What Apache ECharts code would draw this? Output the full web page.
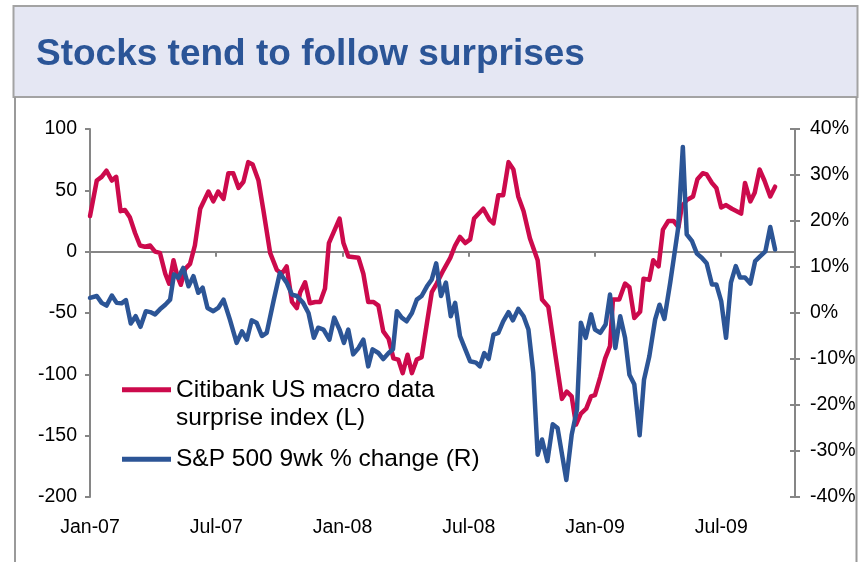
<!DOCTYPE html>
<html>
<head>
<meta charset="utf-8">
<script src="https://cdn.jsdelivr.net/npm/echarts@6/dist/echarts.min.js"></script>
<style>
  html, body { margin: 0; padding: 0; background: #ffffff; }
  #chart { width: 859px; height: 562px; }
</style>
</head>
<body>
<div id="chart"></div>
<script>
// Weekly observations, x measured in weeks from the first week of January 2007.
const tickLabels = ['Jan-07', 'Jul-07', 'Jan-08', 'Jul-08', 'Jan-09', 'Jul-09'];
const weeksPerLabel = 26;
const axisEndWeek = 145.2;

// Citibank US macro data surprise index (left axis)
const surpriseWeeks = [
  0.0, 1.4, 2.4, 3.4, 4.5, 5.4, 6.3, 7.2, 8.2, 9.3, 10.3, 11.3, 12.4, 13.4, 14.4, 15.5, 16.3, 17.2, 18.0, 18.7,
  19.6, 20.6, 21.6, 22.7, 24.4, 25.4, 26.4, 27.5, 28.5, 29.5, 30.6, 31.6, 32.6, 33.5, 34.7, 35.7, 37.1, 38.5, 39.5, 40.5,
  41.6, 42.6, 43.3, 44.3, 45.3, 46.4, 47.4, 48.4, 49.2, 51.4, 52.2, 53.2, 55.3, 56.3, 57.3, 58.4, 59.4, 60.4, 61.5, 62.5,
  63.5, 64.4, 65.4, 66.3, 67.3, 68.3, 69.4, 70.4, 71.4, 72.8, 74.2, 75.2, 76.2, 77.3, 78.3, 79.1, 81.0, 82.3, 83.1, 84.1,
  85.1, 86.2, 87.2, 88.2, 89.3, 90.6, 92.2, 93.1, 94.4, 95.8, 97.2, 98.2, 99.2, 100.1, 101.1, 102.2, 103.2, 104.0, 105.1, 106.1,
  107.1, 107.7, 109.0, 110.2, 111.1, 112.1, 113.3, 114.0, 115.2, 116.0, 117.1, 118.0, 119.1, 120.2, 121.2, 121.9, 122.9, 124.2, 125.1, 126.2,
  127.0, 128.1, 129.0, 130.0, 131.0, 132.2, 133.2, 134.1, 134.9, 136.0, 136.9, 137.9, 138.9, 140.1, 141.1
];
const surpriseIndex = [
  29, 58, 61, 66, 58, 61, 33, 34, 28, 15, 5, 4, 5, 0, -1, -18, -26, -7, -20, -27,
  -14, -10, 5, 35, 49, 41, 49, 43, 64, 64, 52, 57, 73, 71, 58, 34, -1, -15, -18, -12,
  -41, -46, -33, -25, -42, -41, -41, -30, 7, 27, 7, -4, -5, -18, -41, -41, -44, -65, -71, -87,
  -88, -99, -84, -99, -88, -86, -58, -33, -26, -15, -5, 5, 12, 7, 10, 27, 35, 26, 23, 46,
  46, 73, 67, 45, 33, 11, -7, -39, -45, -83, -120, -114, -118, -141, -132, -128, -118, -117, -102, -87,
  -77, -39, -39, -26, -29, -54, -49, -22, -23, -7, -12, 18, 25, 25, 20, 37, 42, 45, 59, 64,
  63, 56, 52, 36, 38, 35, 33, 31, 56, 41, 48, 67, 58, 45, 53
];

// S&P 500 9-week % change (right axis)
const spxWeeks = [
  0.0, 1.4, 2.4, 3.4, 4.5, 5.5, 6.5, 7.4, 8.4, 9.4, 10.4, 11.5, 12.4, 13.4, 14.4, 15.5, 16.5, 17.3, 18.2, 19.2,
  20.3, 21.3, 22.3, 23.2, 24.2, 25.4, 26.4, 27.5, 28.8, 30.2, 31.3, 32.3, 33.3, 34.3, 35.4, 36.4, 37.8, 39.1, 40.5, 41.6,
  42.6, 43.9, 45.0, 46.1, 47.0, 48.1, 49.3, 50.3, 51.4, 52.3, 53.2, 54.2, 55.3, 56.3, 57.3, 58.2, 59.4, 60.4, 61.5, 62.4,
  63.2, 64.2, 65.2, 66.3, 67.3, 68.3, 69.4, 70.4, 71.3, 72.3, 73.3, 74.3, 75.2, 76.2, 77.3, 78.3, 79.5, 80.3, 81.2, 82.1,
  83.1, 84.1, 85.1, 86.2, 87.1, 88.2, 89.3, 90.3, 91.3, 92.2, 93.1, 94.2, 95.3, 96.3, 98.1, 99.2, 100.3, 101.1, 102.1, 103.2,
  104.0, 105.1, 106.2, 107.1, 108.2, 109.2, 110.2, 111.1, 112.1, 113.2, 114.1, 115.2, 116.4, 117.3, 118.3, 119.5, 120.4, 121.1, 122.1, 122.9,
  124.0, 125.0, 126.0, 127.0, 128.1, 129.0, 130.0, 131.0, 132.0, 133.0, 133.9, 134.9, 136.0, 137.0, 138.0, 139.1, 140.1, 141.1
];
const spxChange = [
  3.3, 3.7, 2.2, 1.6, 3.8, 2.2, 2.1, 2.8, -2.3, -0.7, -3.0, 0.4, 0.2, -0.3, 0.8, 1.8, 2.9, 8.4, 7.7, 9.8,
  5.8, 8.0, 4.4, 5.5, 1.1, 0.4, 1.1, 2.9, -1.4, -6.5, -4.0, -5.8, -1.6, -2.1, -5.0, -4.3, 2.6, 8.7, 6.6, 4.0,
  3.7, 2.2, 0.0, -5.4, -3.2, -3.6, -5.8, -1.0, -3.6, -6.5, -3.6, -9.0, -7.6, -5.8, -11.6, -7.9, -8.7, -10.0, -8.7, -7.9,
  0.4, -1.0, -1.8, 0.0, 2.9, 3.7, 5.8, 7.3, 10.8, 3.7, 6.6, -0.7, 2.2, -5.0, -7.9, -10.5, -10.8, -11.6, -8.7, -10.0,
  -4.7, -4.3, -1.8, 0.2, -1.6, 0.9, -0.7, -3.6, -13.0, -30.8, -27.5, -32.2, -24.2, -25.0, -36.3, -26.5, -21.0, -2.1, -5.4, -0.3,
  -3.6, -4.3, -2.5, 4.0, -7.6, -0.7, -5.4, -13.4, -15.5, -26.6, -14.5, -9.4, -1.4, 1.8, -1.3, 6.6, 13.1, 18.2, 36.1, 17.1,
  15.6, 12.9, 12.0, 10.8, 6.2, 6.2, 2.6, -5.4, 6.6, 10.2, 7.7, 7.7, 6.4, 11.3, 12.3, 13.4, 18.7, 13.8
];

const surpriseName = 'Citibank US macro data surprise index (L)';
const spxName = 'S&P 500 9wk % change (R)';

const RED = '#CC0A4C';
const BLUE = '#2C5596';
const AXIS = '#868686';
const FONT = "'Liberation Sans', Arial, sans-serif";

const toPairs = (xs, ys) => xs.map((x, i) => [x, ys[i]]);

const weekLabel = (v) => {
  const i = Math.round(v / weeksPerLabel);
  return Math.abs(v - i * weeksPerLabel) < 1e-6 && tickLabels[i] ? tickLabels[i] : '';
};

const chart = echarts.init(document.getElementById('chart'), null, { renderer: 'canvas' });

const xCommon = { type: 'value', min: 0, max: axisEndWeek, interval: weeksPerLabel, splitLine: { show: false } };
const rightCommon = { type: 'value', position: 'right', min: -40, max: 40, interval: 10, splitLine: { show: false } };

chart.setOption({
  animation: false,
  backgroundColor: '#ffffff',
  textStyle: { fontFamily: FONT },
  graphic: [
    {
      type: 'rect', z: 0,
      shape: { x: 13.5, y: 6, width: 844, height: 91 },
      style: { fill: '#E5E7F3', stroke: '#A3A3A3', lineWidth: 2 }
    },
    {
      type: 'line', z: 0,
      shape: { x1: 15, y1: 97, x2: 15, y2: 562 },
      style: { stroke: '#9A9A9A', lineWidth: 2 }
    },
    {
      type: 'line', z: 0,
      shape: { x1: 856.5, y1: 97, x2: 856.5, y2: 562 },
      style: { stroke: '#9A9A9A', lineWidth: 2 }
    }
  ],
  title: {
    text: 'Stocks tend to follow surprises',
    left: 36, top: 36, padding: 0, z: 10,
    textStyle: { fontFamily: FONT, fontSize: 37, fontWeight: 'bold', color: '#2B5597' }
  },
  legend: [
    {
      data: [surpriseName],
      left: 122, top: 347, padding: 0,
      icon: 'rect', itemWidth: 49, itemHeight: 5,
      selectedMode: false,
      formatter: () => '\nCitibank US macro data\nsurprise index (L)',
      textStyle: { fontFamily: FONT, fontSize: 24.5, lineHeight: 28.5, color: '#000000' }
    },
    {
      data: [spxName],
      left: 122, top: 445, padding: 0,
      icon: 'rect', itemWidth: 49, itemHeight: 5,
      selectedMode: false,
      textStyle: { fontFamily: FONT, fontSize: 24.5, lineHeight: 28.5, color: '#000000' }
    }
  ],
  grid: { left: 90, right: 64, top: 129, bottom: 65, containLabel: false, outerBoundsMode: 'none' },
  xAxis: [
    Object.assign({}, xCommon, {
      axisLine: { onZero: true, onZeroAxisIndex: 0, lineStyle: { color: AXIS, width: 2 } },
      axisTick: { show: true, inside: false, length: 5, lineStyle: { color: AXIS, width: 2 } },
      axisLabel: { show: false }
    }),
    Object.assign({}, xCommon, {
      position: 'bottom',
      axisLine: { show: false, onZero: false },
      axisTick: { show: false },
      axisLabel: { show: true, margin: 21, fontFamily: FONT, fontSize: 19.5, color: '#000000', formatter: weekLabel, showMaxLabel: false }
    })
  ],
  yAxis: [
    {
      type: 'value', position: 'left', min: -200, max: 100, interval: 50,
      splitLine: { show: false },
      axisLine: { show: true, onZero: false, lineStyle: { color: AXIS, width: 2 } },
      axisTick: { show: true, inside: false, length: 5, lineStyle: { color: AXIS, width: 2 } },
      axisLabel: { margin: 13, fontFamily: FONT, fontSize: 19.5, color: '#000000' }
    },
    Object.assign({}, rightCommon, {
      axisLine: { show: true, onZero: false, lineStyle: { color: AXIS, width: 2 } },
      axisTick: { show: true, inside: false, length: 5, lineStyle: { color: AXIS, width: 2 } },
      axisLabel: { margin: 15, fontFamily: FONT, fontSize: 19.5, color: '#000000', formatter: '{value}%' }
    }),
    Object.assign({}, rightCommon, {
      axisLine: { show: false, onZero: false },
      axisTick: { show: true, inside: true, length: 5, lineStyle: { color: AXIS, width: 2 } },
      axisLabel: { show: false }
    })
  ],
  series: [
    {
      name: surpriseName, type: 'line', xAxisIndex: 0, yAxisIndex: 0,
      data: toPairs(surpriseWeeks, surpriseIndex),
      showSymbol: false, symbol: 'none',
      lineStyle: { color: RED, width: 4.5, join: 'round', cap: 'round' },
      itemStyle: { color: RED },
      z: 3
    },
    {
      name: spxName, type: 'line', xAxisIndex: 0, yAxisIndex: 1,
      data: toPairs(spxWeeks, spxChange),
      showSymbol: false, symbol: 'none',
      lineStyle: { color: BLUE, width: 4.5, join: 'round', cap: 'round' },
      itemStyle: { color: BLUE },
      z: 4
    }
  ]
});
</script>
</body>
</html>
